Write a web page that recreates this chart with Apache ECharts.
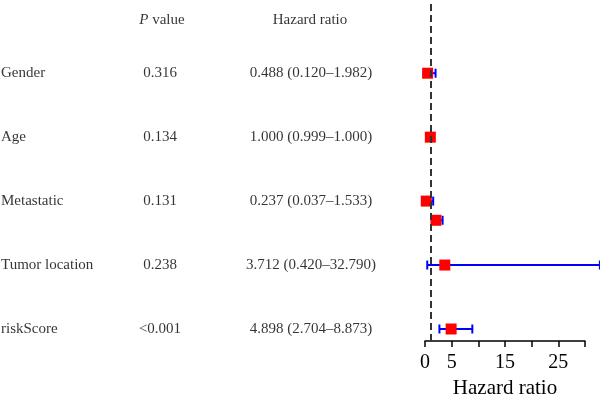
<!DOCTYPE html>
<html>
<head>
<meta charset="utf-8">
<script src="https://cdn.jsdelivr.net/npm/echarts@6/dist/echarts.min.js"></script>
<style>html,body{margin:0;padding:0;background:#fff}#c{width:600px;height:396px}</style>
</head>
<body>
<div id="c"></div>
<script>
// ---- data ----
const variables = ['Gender', 'Age', 'Metastatic', '', 'Tumor location', 'riskScore'];
const rowIndex  = [5, 4, 3, 2.7, 2, 1];
const pValues   = ['0.316', '0.134', '0.131', '', '0.238', '<0.001'];
const hrText    = ['0.488 (0.120\u20131.982)', '1.000 (0.999\u20131.000)', '0.237 (0.037\u20131.533)', '', '3.712 (0.420\u201332.790)', '4.898 (2.704\u20138.873)'];
const hr        = [0.488, 1.000, 0.237, 2.05, 3.712, 4.898];
const hrLow     = [0.120, 0.999, 0.037, 1.4, 0.420, 2.704];
const hrHigh    = [1.982, 1.000, 1.533, 3.3, 32.790, 8.873];
const xTicksShown = [0, 5, 15, 25];
const headerRow = 5.83;

const FONT = 'Liberation Serif';
const yMin = 0.812, yMax = 6.145;

const chart = echarts.init(document.getElementById('c'), null, {renderer: 'canvas'});

const tableData = [];
variables.forEach((v, i) => {
  if (v) tableData.push({value: [1, rowIndex[i]], label: {formatter: v, align: 'left'}});
  if (pValues[i]) tableData.push({value: [160, rowIndex[i]], label: {formatter: pValues[i], align: 'center'}});
  if (hrText[i]) tableData.push({value: [311, rowIndex[i]], label: {formatter: hrText[i], align: 'center'}});
});
tableData.push({value: [162, headerRow], label: {formatter: '{i|P} value', align: 'center'}});
tableData.push({value: [310, headerRow], label: {formatter: 'Hazard ratio', align: 'center'}});

const forestData = hr.map((h, i) => [h, hrLow[i], hrHigh[i], rowIndex[i]]);

function renderItem(params, api) {
  const row = api.value(3);
  const pC = api.coord([api.value(0), row]);
  const pL = api.coord([api.value(1), row]);
  const pH = api.coord([api.value(2), row]);
  const cap = 4.5, box = 11;
  const blue = {stroke: '#0000FF', lineWidth: 2};
  return {
    type: 'group',
    children: [
      {type: 'line', shape: {x1: pL[0], y1: pL[1], x2: pH[0], y2: pH[1]}, style: blue},
      {type: 'line', shape: {x1: pL[0], y1: pL[1] - cap, x2: pL[0], y2: pL[1] + cap}, style: blue},
      {type: 'line', shape: {x1: pH[0], y1: pH[1] - cap, x2: pH[0], y2: pH[1] + cap}, style: blue},
      {type: 'rect', shape: {x: pC[0] - box / 2, y: pC[1] - box / 2, width: box, height: box}, style: {fill: '#FF0000'}}
    ]
  };
}

chart.setOption({
  animation: false,
  backgroundColor: '#ffffff',
  textStyle: {fontFamily: FONT},
  grid: [
    {left: 425, right: 15, top: 0, bottom: 55, containLabel: false, outerBoundsMode: 'none'},
    {left: 0, right: 180, top: 0, bottom: 55, containLabel: false, outerBoundsMode: 'none'}
  ],
  xAxis: [
    {
      gridIndex: 0, type: 'value', min: 0, max: 30, interval: 5,
      axisLine: {show: true, lineStyle: {color: '#000', width: 1.5}},
      axisTick: {show: true, length: 6, lineStyle: {color: '#000', width: 1.5}},
      splitLine: {show: false},
      axisLabel: {
        margin: 12, color: '#000', fontFamily: FONT, fontSize: 20,
        formatter: v => xTicksShown.includes(v) ? String(v) : ''
      },
      name: 'Hazard ratio', nameLocation: 'middle', nameGap: 36,
      nameTextStyle: {color: '#000', fontFamily: FONT, fontSize: 21}
    },
    {gridIndex: 1, type: 'value', min: 0, max: 420, show: false}
  ],
  yAxis: [
    {gridIndex: 0, type: 'value', min: yMin, max: yMax, show: false},
    {gridIndex: 1, type: 'value', min: yMin, max: yMax, show: false}
  ],
  series: [
    {
      type: 'custom', xAxisIndex: 0, yAxisIndex: 0, clip: false,
      renderItem: renderItem,
      encode: {x: [0, 1, 2], y: 3},
      data: forestData,
      z: 3,
      markLine: {
        silent: true, symbol: ['none', 'none'], label: {show: false},
        lineStyle: {color: '#333', width: 2, type: [7, 4]},
        data: [{xAxis: 1}]
      }
    },
    {
      type: 'scatter', xAxisIndex: 1, yAxisIndex: 1,
      symbolSize: 1, itemStyle: {color: 'rgba(0,0,0,0)'}, silent: true,
      label: {
        show: true, position: 'inside', color: '#000', textBorderWidth: 0,
        fontFamily: FONT, fontSize: 15, verticalAlign: 'middle',
        rich: {i: {fontStyle: 'italic', fontFamily: FONT, fontSize: 15, color: '#000'}}
      },
      data: tableData
    }
  ]
});
</script>
</body>
</html>
